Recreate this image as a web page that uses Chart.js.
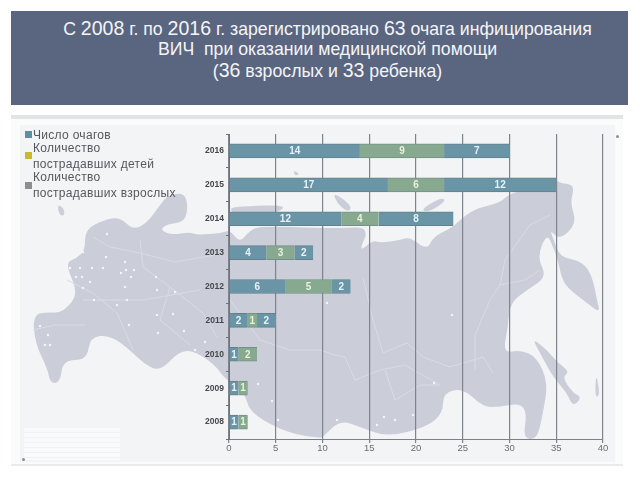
<!DOCTYPE html>
<html>
<head>
<meta charset="utf-8">
<script src="https://cdn.jsdelivr.net/npm/chart.js@4"></script>
<style>
html, body { margin: 0; padding: 0; background: #fff; }
body { width: 640px; height: 480px; position: relative; overflow: hidden; font-family: "Liberation Sans", sans-serif; }
#head { position: absolute; left: 11px; top: 11px; width: 617px; height: 94px; background: #5a6580; }
.hl { position: absolute; left: 8px; width: 100%; text-align: center; color: #f4f5f8; font-size: 17.7px; line-height: 20px; white-space: pre; }
.hl b { font-weight: normal; font-size: 19.5px; }
#panel { position: absolute; left: 11px; top: 115px; width: 612px; height: 351px; background: #fafbfb; border-top: 4px solid #e2e3e5; border-bottom: 2px solid #e9eaec; box-sizing: border-box; }
#inner { position: absolute; left: 20px; top: 125px; width: 595px; height: 337px; background: #f3f4f6; }
#chart { position: absolute; left: 0; top: 0; }
.lg { position: absolute; left: 33px; color: #55585c; font-size: 12px; line-height: 14px; white-space: nowrap; letter-spacing: 0.3px; }
.sq { position: absolute; left: 25px; width: 7px; height: 7px; }
#mini { position: absolute; left: 24px; top: 428px; width: 96px; height: 32px; background: repeating-linear-gradient(#f9fafb 0 4px, #f1f2f4 4px 5px); }
.pin { position: absolute; width: 3px; height: 3px; border-radius: 2px; background: #8b8e93; }
</style>
</head>
<body>
<div id="head">
  <div class="hl" style="top:7px"><span>С <b>2008</b> г. по <b>2016</b> г. зарегистрировано <b>63</b> очага инфицирования</span></div>
  <div class="hl" style="top:28px">ВИЧ  при оказании медицинской помощи</div>
  <div class="hl" style="top:49px">(<b>36</b> взрослых и <b>33</b> ребенка)</div>
</div>
<div id="panel"></div>
<div id="inner"></div>
<div id="mini"></div>
<canvas id="chart" width="640" height="480"></canvas>
<div class="pin" style="left:616px;top:135px"></div>
<div class="pin" style="left:22px;top:458px"></div>
<div class="sq" style="top:131px;background:#5f8ea3"></div>
<div class="sq" style="top:152px;background:#c9b92e"></div>
<div class="sq" style="top:182px;background:#8d8f8d"></div>
<div class="lg" style="top:128px">Число очагов</div>
<div class="lg" style="top:141px">Количество</div>
<div class="lg" style="top:157px">пострадавших детей</div>
<div class="lg" style="top:170px">Количество</div>
<div class="lg" style="top:186px">пострадавших взрослых</div>
<script>
const years = ['2016', '2015', '2014', '2013', '2012', '2011', '2010', '2009', '2008']
const foci = [14, 17, 12, 4, 6, 2, 1, 1, 1]
const children = [9, 6, 4, 3, 5, 1, 2, 1, 1]
const adults = [7, 12, 8, 2, 2, 2, null, null, null]
const xTicks = [0, 5, 10, 15, 20, 25, 30, 35, 40]

// background map of Russia, picture pixels, decoration only
const mapOutline = [[33,315],[47,312],[60,313],[72,303],[77,290],[65,263],[77,258],[85,250],[85,230],[103,220],[120,217],[133,230],[147,223],[160,205],[168,195],[184,193],[188,205],[185,222],[167,224],[160,230],[172,235],[190,232],[197,235],[222,233],[230,230],[240,243],[250,230],[262,226],[320,228],[340,228],[370,227],[358,253],[373,240],[380,243],[400,240],[410,237],[427,250],[433,237],[453,227],[463,217],[477,208],[500,203],[510,193],[557,180],[560,183],[575,185],[570,203],[577,223],[560,240],[550,230],[553,238],[560,257],[577,260],[587,267],[593,280],[597,300],[600,313],[587,303],[570,290],[562,280],[558,260],[553,247],[547,233],[537,257],[547,277],[527,290],[510,303],[508,327],[503,353],[520,350],[537,357],[548,383],[543,413],[537,440],[523,438],[527,413],[520,403],[500,407],[483,407],[463,388],[443,393],[443,413],[427,427],[387,437],[360,427],[340,420],[323,437],[320,438],[287,433],[250,413],[245,393],[223,377],[217,367],[197,352],[180,350],[160,372],[143,363],[130,350],[110,335],[90,337],[87,360],[63,360],[60,383],[50,383],[48,370],[35,343]]
const mapIslands = [
  [[532,338],[547,350],[557,362],[570,372],[562,377],[573,393],[582,397],[573,407],[567,393],[553,377],[540,353]],
  [[227,208],[247,206],[287,205],[277,213],[240,217]],
  [[57,205],[63,207],[65,215],[60,216]],
  [[333,193],[345,200],[352,208],[347,212],[337,203]],
  [[420,210],[440,198],[447,200],[430,212]],
  [[293,170],[300,174],[295,176]],
  [[596,372],[600,395],[595,398]]
]
const mapDots = [[107,234],[83,252],[106,257],[80,268],[92,268],[103,268],[121,273],[131,277],[125,262],[126,270],[134,270],[70,268],[76,277],[82,277],[90,282],[125,287],[156,277],[157,290],[175,292],[83,288],[94,300],[117,305],[127,300],[173,314],[157,315],[129,325],[158,333],[184,331],[205,342],[195,350],[40,326],[48,335],[45,345],[50,345],[269,287],[452,315],[327,303],[258,384],[272,401],[278,420],[337,420],[377,425],[395,420],[434,383],[413,415],[384,417]]
const mapBorders = [
  [[93,237],[110,247],[140,253],[175,262],[215,255]],
  [[67,280],[93,293],[117,313],[133,350]],
  [[140,240],[143,267],[170,287],[203,313],[217,337]],
  [[83,300],[143,300],[200,290]],
  [[170,287],[160,320],[190,345]],
  [[230,300],[260,340],[290,350],[320,350]],
  [[320,350],[335,355],[345,357],[355,380],[380,370],[405,365],[440,385]],
  [[363,278],[373,320],[383,353],[407,343],[423,357],[450,367],[483,357],[493,373]],
  [[475,370],[475,335],[490,300],[500,285],[505,260],[530,225],[550,215]],
  [[500,285],[525,280],[540,270]],
  [[385,370],[395,400],[420,385],[440,385]],
  [[33,330],[55,325],[85,325]]
]

function tracePath(ctx, pts, closed) {
  ctx.beginPath()
  if (!closed) {
    pts.forEach((p, i) => i ? ctx.lineTo(p[0], p[1]) : ctx.moveTo(p[0], p[1]))
    return
  }
  // rounded corners through the midpoints
  const n = pts.length
  ctx.moveTo((pts[n - 1][0] + pts[0][0]) / 2, (pts[n - 1][1] + pts[0][1]) / 2)
  pts.forEach((p, i) => {
    const q = pts[(i + 1) % n]
    ctx.quadraticCurveTo(p[0], p[1], (p[0] + q[0]) / 2, (p[1] + q[1]) / 2)
  })
  ctx.closePath()
}

const mapPlugin = {
  id: 'map',
  beforeDraw(chart) {
    const ctx = chart.ctx
    ctx.save()
    ctx.filter = 'blur(0.6px)'
    ctx.fillStyle = '#cbced8'
    tracePath(ctx, mapOutline, true)
    ctx.fill()
    mapIslands.forEach(shape => {
      tracePath(ctx, shape, true)
      ctx.fill()
    })
    ctx.strokeStyle = '#d9dbe2'
    ctx.lineWidth = 1
    mapBorders.forEach(line => {
      tracePath(ctx, line, false)
      ctx.stroke()
    })
    ctx.fillStyle = '#f4f5f8'
    mapDots.forEach(p => {
      ctx.beginPath()
      ctx.arc(p[0], p[1], 1.2, 0, Math.PI * 2)
      ctx.fill()
    })
    ctx.restore()
  }
}

// numbers inside the bar segments
const valuePlugin = {
  id: 'values',
  afterDatasetsDraw(chart) {
    const ctx = chart.ctx
    ctx.save()
    ctx.font = 'bold 10px "Liberation Sans"'
    ctx.textAlign = 'center'
    ctx.textBaseline = 'middle'
    chart.data.datasets.forEach((ds, i) => {
      chart.getDatasetMeta(i).data.forEach((bar, j) => {
        if (ds.data[j] == null) return
        ctx.fillStyle = i === 1 ? '#e6f3d8' : '#e4f3f8'
        ctx.fillText(ds.data[j], (bar.x + bar.base) / 2, bar.y + 0.5)
      })
    })
    ctx.restore()
  }
}

const edge = { top: 1, bottom: 1, left: 0, right: 0 }

new Chart(document.getElementById('chart'), {
  type: 'bar',
  data: {
    labels: years,
    datasets: [
      { label: 'Число очагов', data: foci, backgroundColor: '#6a95a6', borderColor: '#65808a', borderWidth: edge, borderSkipped: false },
      { label: 'Количество пострадавших детей', data: children, backgroundColor: '#86a98f', borderColor: '#75908a', borderWidth: edge, borderSkipped: false },
      { label: 'Количество пострадавших взрослых', data: adults, backgroundColor: '#6a95a6', borderColor: '#65808a', borderWidth: edge, borderSkipped: false }
    ]
  },
  options: {
    indexAxis: 'y',
    responsive: false,
    animation: false,
    devicePixelRatio: 1,
    barThickness: 14,
    layout: { padding: { top: 134, right: 37, left: 0, bottom: 0 } },
    plugins: { legend: { display: false }, tooltip: { enabled: false } },
    scales: {
      x: {
        stacked: true,
        min: 0,
        max: 40,
        afterFit(scale) { scale.height = 41 },
        afterBuildTicks(scale) { scale.ticks = xTicks.map(value => ({ value })) },
        border: { color: '#7c8087', width: 1 },
        grid: { color: '#7f838b', lineWidth: 1.2, tickLength: 4, tickColor: '#7f838b' },
        ticks: { color: '#6a6d72', font: { family: 'Liberation Sans', size: 9.5 }, padding: 0, maxRotation: 0, autoSkip: false }
      },
      y: {
        stacked: true,
        afterFit(scale) { scale.width = 229 },
        border: { color: '#6f7378', width: 1 },
        grid: { drawOnChartArea: false, offset: true, tickLength: 3, tickColor: '#6f7378' },
        ticks: { color: '#45484c', font: { family: 'Liberation Sans', size: 8.5, weight: 'bold' }, padding: 2 }
      }
    }
  },
  plugins: [mapPlugin, valuePlugin]
})
</script>
</body>
</html>
